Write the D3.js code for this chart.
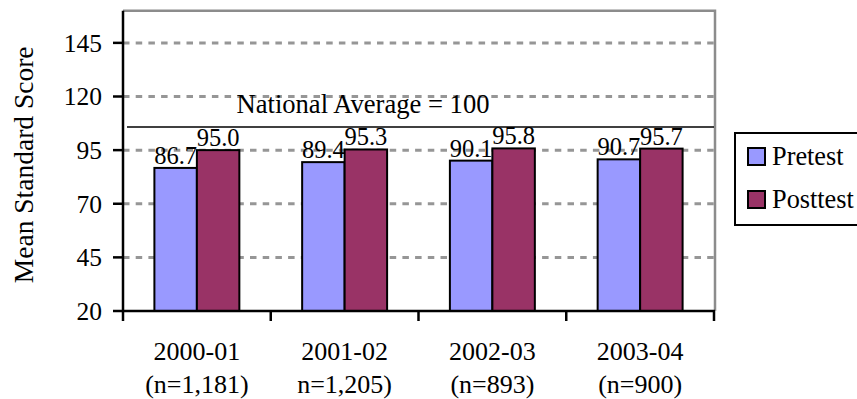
<!DOCTYPE html>
<html>
<head>
<meta charset="utf-8">
<script src="https://cdn.jsdelivr.net/npm/d3@7"></script>
<style>
  body { margin: 0; background: #fff; }
  svg { display: block; }
  text { font-family: "Liberation Serif", "Times New Roman", serif; fill: #000; }
</style>
</head>
<body>
<div id="chart"></div>
<script>
const years = ["2000-01", "2001-02", "2002-03", "2003-04"];
const sampleLabels = ["(n=1,181)", "n=1,205)", "(n=893)", "(n=900)"];
const seriesNames = ["Pretest", "Posttest"];
const pretest = [86.7, 89.4, 90.1, 90.7];
const posttest = [95.0, 95.3, 95.8, 95.7];
const yTicks = [20, 45, 70, 95, 120, 145];
const nationalLabel = "National Average = 100";
const nationalLineValue = 105.8;

const colors = { Pretest: "#9999ff", Posttest: "#993366" };

const width = 857, height = 399;
const plot = { left: 123, right: 714, top: 10.7, bottom: 311 };

const svg = d3.select("#chart").append("svg")
  .attr("width", width)
  .attr("height", height);

const x0 = d3.scaleBand()
  .domain(years)
  .range([plot.left, plot.right])
  .paddingInner(0.425)
  .paddingOuter(0.2125);

const x1 = d3.scaleBand()
  .domain(seriesNames)
  .range([0, x0.bandwidth()]);

const y = d3.scaleLinear()
  .domain([20, 160])
  .range([plot.bottom, plot.top]);

// gridlines
svg.append("g")
  .selectAll("line")
  .data(yTicks.filter(d => d > 20))
  .join("line")
  .attr("x1", plot.left).attr("x2", plot.right)
  .attr("y1", d => y(d)).attr("y2", d => y(d))
  .attr("stroke", "#969696")
  .attr("stroke-width", 3)
  .attr("stroke-dasharray", "6.5,6.2");

// plot border (top + right)
svg.append("path")
  .attr("d", `M${plot.left},${plot.top}H${plot.right + 1}V${plot.bottom}`)
  .attr("fill", "none")
  .attr("stroke", "#8c8c8c")
  .attr("stroke-width", 2.5);

// national average line + label
svg.append("line")
  .attr("x1", plot.left + 4).attr("x2", plot.right)
  .attr("y1", y(nationalLineValue)).attr("y2", y(nationalLineValue))
  .attr("stroke", "#000")
  .attr("stroke-width", 1.5);

svg.append("text")
  .attr("x", 363)
  .attr("y", y(nationalLineValue) - 14)
  .attr("text-anchor", "middle")
  .attr("font-size", "26.6px")
  .text(nationalLabel);

// bars
const rows = years.map((yr, i) => ({ year: yr, values: [
  { key: "Pretest", value: pretest[i] },
  { key: "Posttest", value: posttest[i] }
] }));

const groups = svg.append("g")
  .selectAll("g")
  .data(rows)
  .join("g")
  .attr("transform", d => `translate(${x0(d.year)},0)`);

groups.selectAll("rect")
  .data(d => d.values)
  .join("rect")
  .attr("x", d => x1(d.key))
  .attr("y", d => y(d.value))
  .attr("width", x1.bandwidth())
  .attr("height", d => y(20) - y(d.value))
  .attr("fill", d => colors[d.key])
  .attr("stroke", "#000")
  .attr("stroke-width", 2);

groups.selectAll("text")
  .data(d => d.values)
  .join("text")
  .attr("x", d => x1(d.key) + x1.bandwidth() / 2)
  .attr("y", d => y(d.value) - 4)
  .attr("text-anchor", "middle")
  .attr("font-size", "24.5px")
  .text(d => d.value.toFixed(1));

// y axis
svg.append("line")
  .attr("x1", plot.left).attr("x2", plot.left)
  .attr("y1", plot.top).attr("y2", plot.bottom + 1)
  .attr("stroke", "#000").attr("stroke-width", 2.5);

const yt = svg.append("g")
  .selectAll("g")
  .data(yTicks)
  .join("g")
  .attr("transform", d => `translate(0,${y(d)})`);
yt.append("line")
  .attr("x1", plot.left - 10).attr("x2", plot.left)
  .attr("stroke", "#000").attr("stroke-width", 2.5);
yt.append("text")
  .attr("x", plot.left - 21)
  .attr("dy", "0.35em")
  .attr("text-anchor", "end")
  .attr("font-size", "25.5px")
  .text(d => d);

svg.append("text")
  .attr("transform", `translate(33,${(plot.top + plot.bottom) / 2 + 4}) rotate(-90)`)
  .attr("text-anchor", "middle")
  .attr("font-size", "27.5px")
  .text("Mean Standard Score");

// x axis
svg.append("line")
  .attr("x1", plot.left - 1).attr("x2", plot.right + 1)
  .attr("y1", plot.bottom).attr("y2", plot.bottom)
  .attr("stroke", "#000").attr("stroke-width", 2.5);

const step = x0.step();
const xTickPos = d3.range(years.length + 1).map(i => plot.left + i * step);
svg.append("g")
  .selectAll("line")
  .data(xTickPos)
  .join("line")
  .attr("x1", d => d).attr("x2", d => d)
  .attr("y1", plot.bottom).attr("y2", plot.bottom + 10)
  .attr("stroke", "#000").attr("stroke-width", 2.5);

const xl = svg.append("g")
  .selectAll("text")
  .data(years)
  .join("text")
  .attr("x", d => x0(d) + x0.bandwidth() / 2)
  .attr("y", 360)
  .attr("text-anchor", "middle")
  .attr("font-size", "26px");
xl.append("tspan").text(d => d);
xl.append("tspan")
  .attr("x", d => x0(d) + x0.bandwidth() / 2)
  .attr("dy", 33)
  .text((d, i) => sampleLabels[i]);

// legend
const legend = svg.append("g").attr("transform", "translate(735,133)");
legend.append("rect")
  .attr("width", 130).attr("height", 92)
  .attr("fill", "#fff")
  .attr("stroke", "#000").attr("stroke-width", 2);

const li = legend.selectAll("g.item")
  .data(seriesNames)
  .join("g")
  .attr("class", "item")
  .attr("transform", (d, i) => `translate(13,${15 + i * 43})`);
li.append("rect")
  .attr("width", 17).attr("height", 17)
  .attr("fill", d => colors[d])
  .attr("stroke", "#000").attr("stroke-width", 2);
li.append("text")
  .attr("x", 24).attr("y", 17)
  .attr("font-size", "26.3px")
  .text(d => d);
</script>
</body>
</html>
